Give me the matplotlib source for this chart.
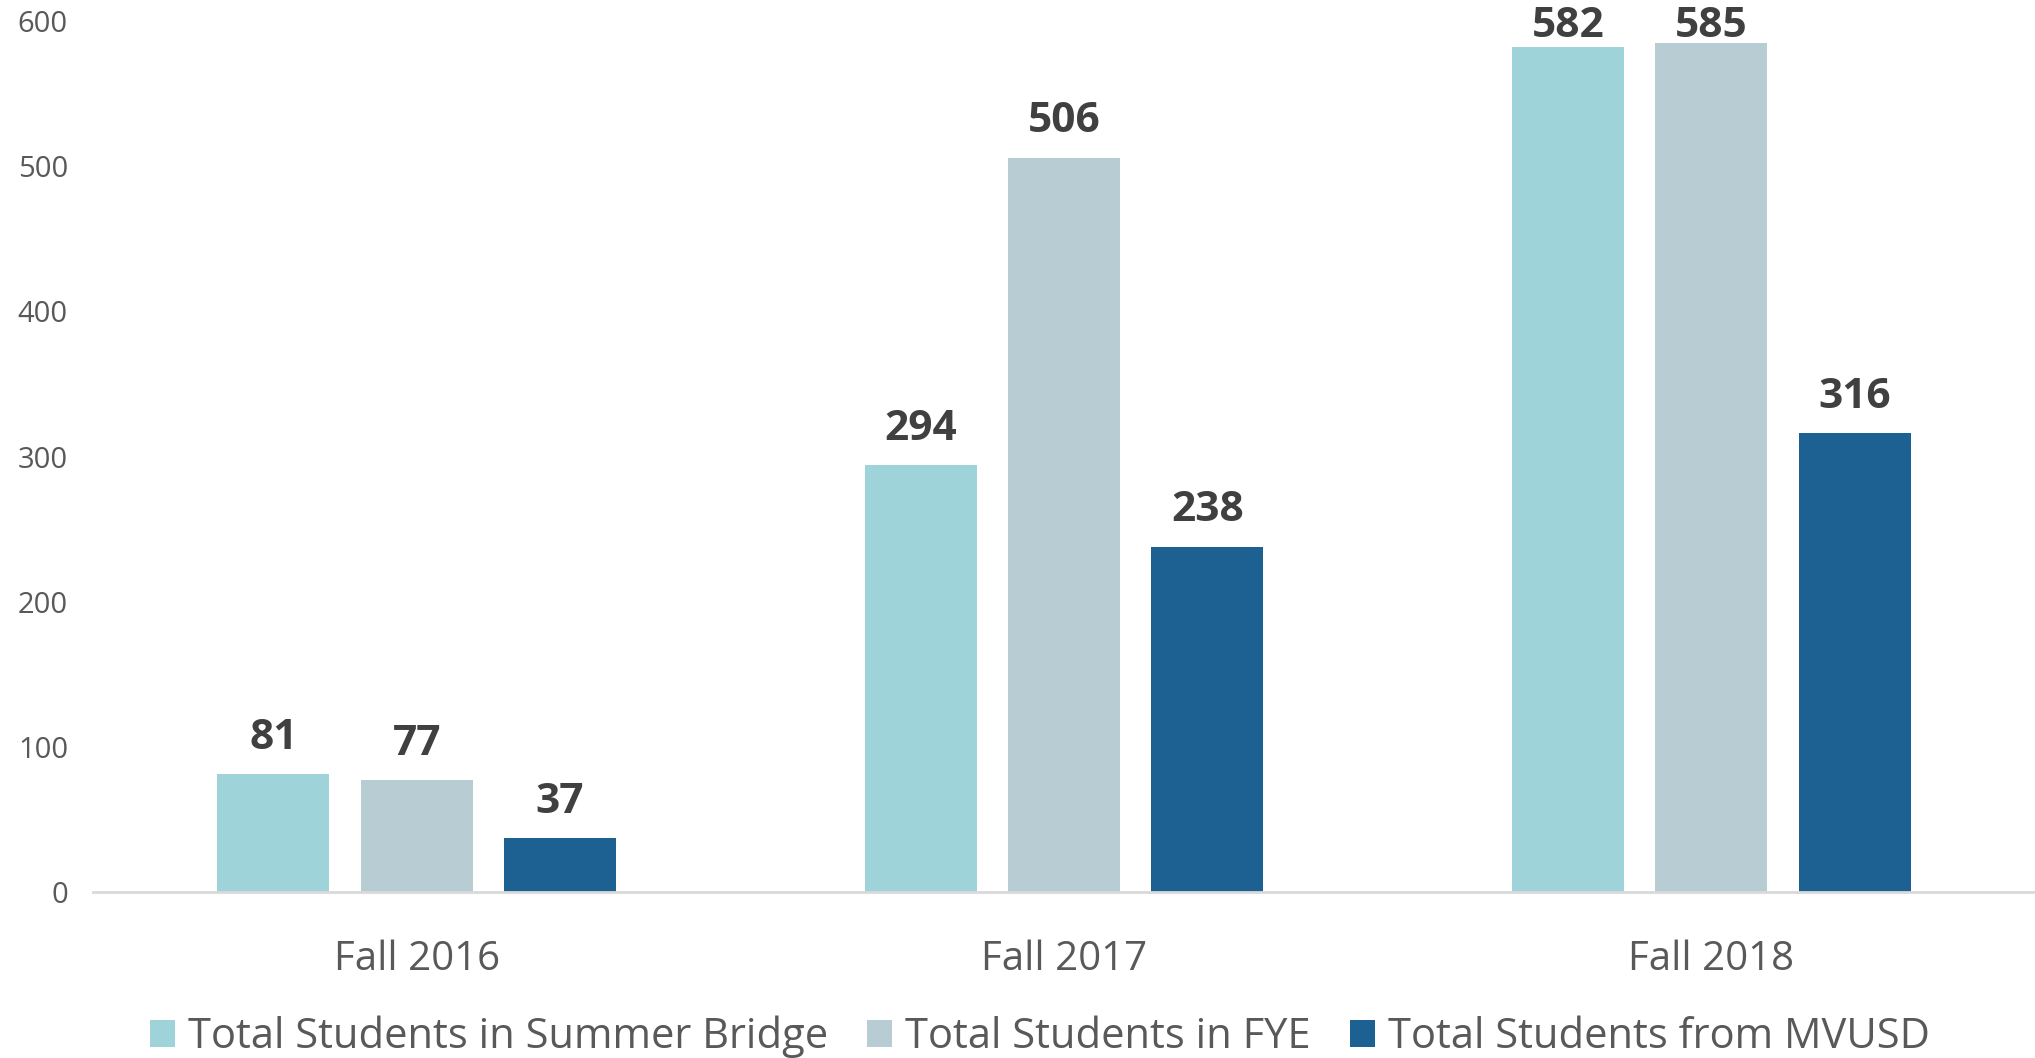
import numpy as np
import matplotlib
matplotlib.use("Agg")
import matplotlib.pyplot as plt
from matplotlib.patches import Patch

plt.rcParams['font.family'] = ['Open Sans', 'DejaVu Sans']

terms = ['Fall 2016', 'Fall 2017', 'Fall 2018']
series = ['Total Students in Summer Bridge', 'Total Students in FYE', 'Total Students from MVUSD']
summer_bridge = [81, 294, 582]
fye = [77, 506, 585]
mvusd = [37, 238, 316]
colors = ['#9DD3D9', '#B7CDD3', '#1D6192']

values = [summer_bridge, fye, mvusd]

fig = plt.figure(figsize=(20.35, 10.58), dpi=100)
ax = fig.add_axes([0.0457, 0.157, 0.9543, 0.823])

x = np.arange(len(terms))
step = 0.2215
width = 0.173
label_gap = 24.8   # data units between bar top and label centre
label_max = 596    # labels pushed down so they stay inside the plot
for i, vals in enumerate(values):
    pos = x + (i - 1) * step
    bars = ax.bar(pos, vals, width=width, color=colors[i], zorder=2)
    for b, v in zip(bars, vals):
        ax.text(b.get_x() + b.get_width() / 2, min(v + label_gap, label_max), str(v),
                ha='center', va='center', fontsize=30.5, fontweight='bold',
                color='#404040', clip_on=False)

ax.set_xlim(-0.5, 2.5)
ax.set_ylim(0, 600)
ax.set_yticks(range(0, 601, 100))
ax.set_xticks(x)
ax.set_xticklabels(terms, fontsize=29, color='#595959')
ax.tick_params(axis='y', labelsize=21, labelcolor='#595959', length=0, pad=18)
ax.tick_params(axis='x', length=0, pad=34)
for s in ['top', 'right', 'left']:
    ax.spines[s].set_visible(False)
ax.spines['bottom'].set_color('#D9D9D9')
ax.spines['bottom'].set_linewidth(2)
ax.spines['bottom'].set_zorder(3)

handles = [Patch(facecolor=c) for c in colors]
fig.legend(handles, series, loc='center', bbox_to_anchor=(0.511, 0.02), ncol=3,
           frameon=False, fontsize=30, labelcolor='#595959',
           handlelength=0.6, handleheight=0.6, handletextpad=0.3, columnspacing=0.95)

fig.savefig('out.png', dpi=100)
